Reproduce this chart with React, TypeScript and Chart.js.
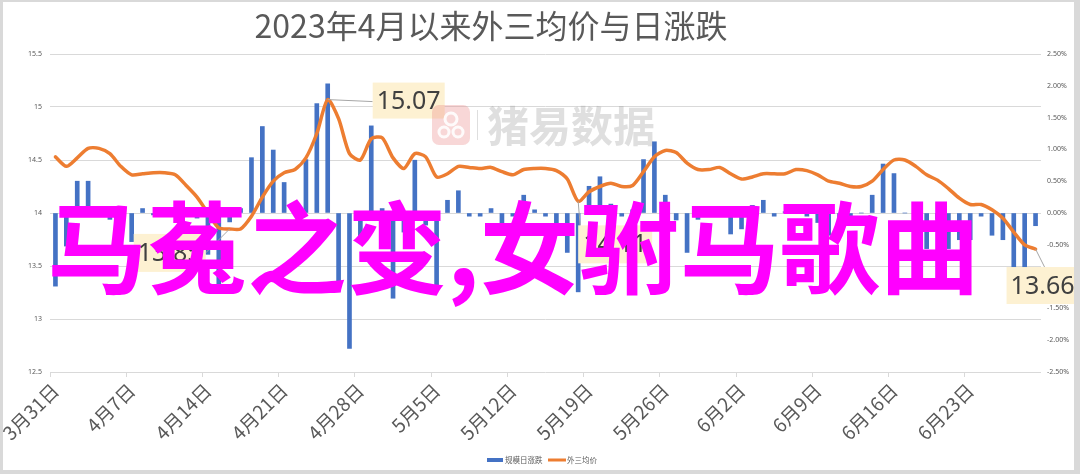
import React, { useEffect, useRef } from 'react';
import { Chart, registerables } from 'chart.js';

Chart.register(...registerables);

const TITLE = '2023年4月以来外三均价与日涨跌';
const OVERLAY_TEXT = '马菟之变,女驸马歌曲';
const WATERMARK = '猪易数据';
const BAR_NAME = '规模日涨跌';
const LINE_NAME = '外三均价';

const DATES = [
  '3月31日',
  '4月1日', '4月2日', '4月3日', '4月4日', '4月5日', '4月6日', '4月7日', '4月8日', '4月9日', '4月10日',
  '4月11日', '4月12日', '4月13日', '4月14日', '4月15日', '4月16日', '4月17日', '4月18日', '4月19日', '4月20日',
  '4月21日', '4月22日', '4月23日', '4月24日', '4月25日', '4月26日', '4月27日', '4月28日', '4月29日', '4月30日',
  '5月1日', '5月2日', '5月3日', '5月4日', '5月5日', '5月6日', '5月7日', '5月8日', '5月9日', '5月10日',
  '5月11日', '5月12日', '5月13日', '5月14日', '5月15日', '5月16日', '5月17日', '5月18日', '5月19日', '5月20日',
  '5月21日', '5月22日', '5月23日', '5月24日', '5月25日', '5月26日', '5月27日', '5月28日', '5月29日', '5月30日',
  '5月31日',
  '6月1日', '6月2日', '6月3日', '6月4日', '6月5日', '6月6日', '6月7日', '6月8日', '6月9日', '6月10日',
  '6月11日', '6月12日', '6月13日', '6月14日', '6月15日', '6月16日', '6月17日', '6月18日', '6月19日', '6月20日',
  '6月21日', '6月22日', '6月23日', '6月24日', '6月25日', '6月26日', '6月27日', '6月28日', '6月29日',
];

// 外三均价 (left axis, 元/kg)
const AVG_PRICE = [
  14.53, 14.44, 14.52, 14.61, 14.61, 14.56, 14.44, 14.36, 14.37, 14.38,
  14.38, 14.36, 14.26, 14.15, 14.00, 13.86, 13.85, 13.85, 13.97, 14.15,
  14.30, 14.38, 14.41, 14.52, 14.75, 15.07, 14.89, 14.56, 14.50, 14.70,
  14.71, 14.52, 14.42, 14.56, 14.53, 14.34, 14.37, 14.44, 14.43, 14.42,
  14.43, 14.39, 14.36, 14.41, 14.42, 14.42, 14.40, 14.32, 14.11, 14.20,
  14.25, 14.28, 14.25, 14.26, 14.39, 14.53, 14.59, 14.57, 14.47, 14.41,
  14.41, 14.43, 14.37, 14.32, 14.34, 14.37, 14.37, 14.37, 14.41, 14.40,
  14.36, 14.30, 14.28, 14.25, 14.25, 14.30, 14.41, 14.50, 14.50, 14.44,
  14.36, 14.31, 14.23, 14.14, 14.08, 14.08, 14.03, 13.95, 13.82, 13.70,
  13.66,
];

// 规模日涨跌 (right axis, %)
const DAILY_CHANGE = [
  -1.15, -0.52, 0.5, 0.5, -0.05, -0.1, -0.6, -0.45, 0.07, -0.03,
  -0.03, 0.0, -0.05, -0.08, -0.65, -1.13, -0.14, 0.07, 0.87, 1.36,
  0.99, 0.48, 0.07, 0.84, 1.72, 2.03, -1.18, -2.13, -0.47, 1.37,
  0.07, -1.34, -0.3, 0.83, -0.19, -1.16, 0.2, 0.35, -0.05, -0.05,
  0.07, -0.21, -0.05, 0.28, 0.05, -0.05, -0.16, -0.62, -1.24, 0.42,
  0.57, 0.14, -0.05, 0.05, 0.84, 1.12, 0.28, -0.11, -0.62, -0.1,
  -0.05, 0.05, -0.33, -0.25, 0.12, 0.2, -0.05, 0.02, 0.12, -0.05,
  -0.15, -0.35, -0.1, -0.06, 0.0, 0.28, 0.77, 0.62, 0.0, -0.1,
  -0.56, -0.1, -0.56, -0.42, -0.42, -0.05, -0.35, -0.42, -0.87, -0.87,
  -0.2,
];

const LEFT_MIN = 12.5;
const LEFT_MAX = 15.5;
const LEFT_STEP = 0.5;
const RIGHT_MIN = -2.5;
const RIGHT_MAX = 2.5;
const RIGHT_STEP = 0.5;
const LABEL_EVERY = 7;

// indices of the price points carrying a value callout
const CALLOUT_POINTS = [16, 25, 48, 90];

const GRID = '#d9d9d9';
const TEXT = '#595959';
const BAR_COLOR = '#4472c4';
const LINE_COLOR = '#ed7d31';

const calloutStyle: Record<number, { dx: number; dy: number; w: number; h: number; ax: number; ay: number }> = {
  16: { dx: -96, dy: 5, w: 72, h: 38, ax: 72, ay: 19 },
  25: { dx: 45, dy: -17, w: 72, h: 36, ax: 0, ay: 19 },
  48: { dx: 0, dy: 24, w: 74, h: 38, ax: 2, ay: 0 },
  90: { dx: -29, dy: 18, w: 72, h: 37, ax: 38, ay: 0 },
};

const decorPlugin = {
  id: 'decor',
  afterDatasetsDraw(chart: any) {
    const ctx = chart.ctx as CanvasRenderingContext2D;
    const meta = chart.getDatasetMeta(1);
    ctx.save();
    CALLOUT_POINTS.forEach((i) => {
      const p = meta.data[i];
      const s = calloutStyle[i];
      if (!p || !s) return;
      const bx = p.x + s.dx;
      const by = p.y + s.dy;
      ctx.strokeStyle = '#a6a6a6';
      ctx.lineWidth = 1;
      ctx.beginPath();
      ctx.moveTo(p.x, p.y);
      ctx.lineTo(bx + s.ax, by + s.ay);
      ctx.stroke();
      ctx.fillStyle = '#fdf1d2';
      ctx.fillRect(bx, by, s.w, s.h);
      ctx.fillStyle = '#404040';
      ctx.font = '25px "Noto Sans"';
      ctx.textAlign = 'center';
      ctx.textBaseline = 'middle';
      ctx.fillText(AVG_PRICE[i].toFixed(2), bx + s.w / 2, by + s.h / 2 + 1);
    });
    ctx.restore();
  },
  afterDraw(chart: any) {
    const ctx = chart.ctx as CanvasRenderingContext2D;
    ctx.save();
    // title
    ctx.fillStyle = TEXT;
    ctx.font = '32px "Noto Sans CJK SC"';
    ctx.textAlign = 'center';
    ctx.textBaseline = 'middle';
    ctx.fillText(TITLE, 488, 24);

    // watermark
    ctx.fillStyle = 'rgba(235,140,140,0.35)';
    const lx = 429, ly = 103, lw = 38, lh = 40, r = 7;
    ctx.beginPath();
    ctx.moveTo(lx + r, ly);
    ctx.arcTo(lx + lw, ly, lx + lw, ly + lh, r);
    ctx.arcTo(lx + lw, ly + lh, lx, ly + lh, r);
    ctx.arcTo(lx, ly + lh, lx, ly, r);
    ctx.arcTo(lx, ly, lx + lw, ly, r);
    ctx.closePath();
    ctx.fill();
    ctx.strokeStyle = 'rgba(255,255,255,0.9)';
    ctx.lineWidth = 3;
    [[lx + 19, ly + 14, 6], [lx + 12, ly + 27, 5], [lx + 26, ly + 27, 5]].forEach(([cx, cy, cr]) => {
      ctx.beginPath();
      ctx.arc(cx, cy, cr, 0, Math.PI * 2);
      ctx.stroke();
    });
    ctx.strokeStyle = 'rgba(160,160,160,0.35)';
    ctx.lineWidth = 1;
    ctx.beginPath();
    ctx.moveTo(474.5, 108);
    ctx.lineTo(474.5, 138);
    ctx.stroke();
    ctx.fillStyle = 'rgba(150,150,150,0.3)';
    ctx.font = 'bold 42px "Noto Sans CJK SC"';
    ctx.textAlign = 'left';
    ctx.textBaseline = 'middle';
    ctx.fillText(WATERMARK, 484, 124);

    // legend
    ctx.fillStyle = BAR_COLOR;
    ctx.fillRect(484, 456, 16, 4);
    ctx.fillStyle = TEXT;
    ctx.font = '7.5px "Noto Sans CJK SC"';
    ctx.textBaseline = 'middle';
    ctx.fillText(BAR_NAME, 502, 458);
    ctx.strokeStyle = LINE_COLOR;
    ctx.lineWidth = 3;
    ctx.beginPath();
    ctx.moveTo(545, 458);
    ctx.lineTo(563, 458);
    ctx.stroke();
    ctx.fillText(LINE_NAME, 564, 458);

    // overlay text
    ctx.fillStyle = '#ff00ff';
    ctx.font = 'bold 100px "Noto Sans CJK SC"';
    ctx.textAlign = 'left';
    ctx.textBaseline = 'middle';
    ctx.fillText(OVERLAY_TEXT, 44, 246);
    ctx.restore();
  },
};

export default function App() {
  const ref = useRef<HTMLCanvasElement>(null);

  useEffect(() => {
    if (!ref.current) return;
    const chart = new Chart(ref.current, {
      type: 'bar',
      data: {
        labels: DATES,
        datasets: [
          {
            type: 'bar',
            label: BAR_NAME,
            data: DAILY_CHANGE,
            yAxisID: 'yR',
            backgroundColor: BAR_COLOR,
            barThickness: 4,
            order: 2,
          },
          {
            type: 'line',
            label: LINE_NAME,
            data: AVG_PRICE,
            yAxisID: 'yL',
            borderColor: LINE_COLOR,
            backgroundColor: LINE_COLOR,
            borderWidth: 3.5,
            pointRadius: 0,
            tension: 0.25,
            borderCapStyle: 'round',
            borderJoinStyle: 'round',
            order: 1,
          },
        ] as any,
      },
      options: {
        responsive: false,
        animation: false,
        layout: { padding: { top: 52, left: 0, right: 0, bottom: 0 } },
        plugins: {
          legend: { display: false },
          title: { display: false },
          tooltip: { enabled: false },
        },
        scales: {
          x: {
            type: 'category',
            offset: true,
            grid: {
              offset: true,
              drawOnChartArea: false,
              drawTicks: true,
              tickLength: 5,
              color: (c: any) => (c.index % LABEL_EVERY === 0 ? GRID : 'rgba(0,0,0,0)'),
            },
            border: { display: false },
            ticks: {
              autoSkip: false,
              maxRotation: 45,
              minRotation: 45,
              padding: 2,
              color: TEXT,
              font: { size: 19, family: '"Noto Sans CJK SC"' },
              callback: (_v: any, i: number) => (i % LABEL_EVERY === 0 ? DATES[i] : ''),
            },
            afterFit: (s: any) => {
              s.height = 98;
              s.paddingLeft = 0;
              s.paddingRight = 0;
            },
          },
          yL: {
            position: 'left',
            min: LEFT_MIN,
            max: LEFT_MAX,
            ticks: {
              stepSize: LEFT_STEP,
              padding: 8,
              color: TEXT,
              font: { size: 7, family: '"Noto Sans"' },
              callback: (v: any) => String(Number(Number(v).toFixed(1))),
            },
            grid: { color: GRID, drawTicks: false },
            border: { display: false },
            afterFit: (s: any) => {
              s.width = 47;
            },
          },
          yR: {
            position: 'right',
            min: RIGHT_MIN,
            max: RIGHT_MAX,
            ticks: {
              stepSize: RIGHT_STEP,
              padding: 6,
              color: TEXT,
              font: { size: 7, family: '"Noto Sans"' },
              callback: (v: any) => Number(v).toFixed(2) + '%',
            },
            grid: { drawOnChartArea: false, drawTicks: false },
            border: { display: false },
            afterFit: (s: any) => {
              s.width = 33;
            },
          },
        },
      } as any,
      plugins: [decorPlugin],
    });
    return () => chart.destroy();
  }, []);

  return (
    <div
      style={{
        position: 'fixed',
        left: 0,
        top: 0,
        width: 1080,
        height: 474,
        background: '#d9d9d9',
      }}
    >
      <div style={{ position: 'absolute', left: 3, top: 2, width: 1071, height: 468, background: '#ffffff' }}>
        <canvas ref={ref} width={1071} height={468} style={{ display: 'block' }} />
      </div>
    </div>
  );
}
